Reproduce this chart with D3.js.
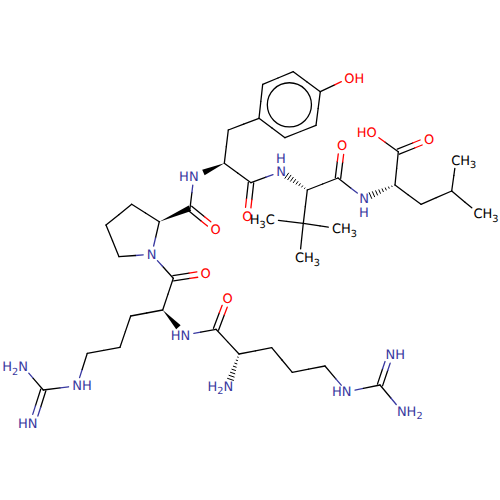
<!DOCTYPE html>
<html lang="en">
<head>
  <meta charset="UTF-8">
  <title>Peptide structure</title>
  <script src="https://d3js.org/d3.v7.min.js"></script>
  <style>
    body { margin: 0; padding: 0; background: #fff; }
    svg { display: block; }
    text { font-family: "DejaVu Sans", sans-serif; text-rendering: geometricPrecision; }
  </style>
</head>
<body>
  <script>
    // atoms
    const atomNames = ["Na","Nb","G1","Nc","A1","A2","A3","CA1","C4","O1","Np","P1","P2","P3","PA","C5","O2","Nt","TA","TB",
      "R1","R2","R3","R4","R5","R6","Oh","C6","O3","Ng","GA","GQ","M1","M2","M3","C7","O4","Nl","LA","C8","Oa","O5","LB","LG",
      "L1","L2","Nr","C9","O6","RA","N2","RB","RC","RD","Ne","G2","Ni","Nn"];
    const atomX = [23.2,32.7,43.3,77,87.3,120,130.7,162.7,173.3,205.7,151.7,119,106,131.7,159.3,190,215.7,193.8,224.3,228.3,
      259,262.7,293.3,320.3,316,285,349,251,247.3,281,307.3,303.3,270,336.7,299.7,338,342,364,395,398.3,372,429,421,451.7,
      456,478.3,185.5,216,227.7,239,228.3,271.7,292.3,325,346.7,380,390.3,401.7];
    const atomY = [366.7,423.3,390,385.7,353.3,347.3,316,310,278.3,273.3,254.3,256.7,225,204.3,221.7,208.3,229.3,176.7,163.3,130,
      118.3,84.3,71.7,91.7,125.3,137.7,78,182.7,216,171.7,190,223.3,219.3,228.3,257.3,178,145.7,198.3,185,151.7,132.7,139.3,204.3,191,
      160,213.3,335,329.3,298.3,354,386,347.7,372.3,366,391.7,385,354.3,411];
    const atomLabels = {Na:"H2N",Nb:"HN",Nc:"NH",O1:"O",Np:"N",O2:"O",Nt:"HN",Oh:"OH",O3:"O",Ng:"N",M1:"H3C",M2:"CH3",M3:"CH3",
      O4:"O",Nl:"N",Oa:"HO",O5:"O",L1:"CH3",L2:"CH3",Nr:"HN",O6:"O",N2:"H2N",Ne:"HN",Ni:"NH",Nn:"NH2"};
    const hydrogensAbove = ["Ng"];
    const hydrogensBelow = ["Nl"];

    const singleBonds = [["Na","G1"],["G1","Nc"],["Nc","A1"],["A1","A2"],["A2","A3"],["A3","CA1"],["CA1","C4"],["C4","Np"],
      ["Np","P1"],["P1","P2"],["P2","P3"],["P3","PA"],["PA","Np"],["C5","Nt"],["TA","TB"],["TB","R1"],
      ["R1","R2"],["R2","R3"],["R3","R4"],["R4","R5"],["R5","R6"],["R6","R1"],["R4","Oh"],
      ["TA","C6"],["C6","Ng"],["GA","GQ"],["GQ","M1"],["GQ","M2"],["GQ","M3"],["GA","C7"],["C7","Nl"],
      ["LA","C8"],["C8","Oa"],["LA","LB"],["LB","LG"],["LG","L1"],["LG","L2"],
      ["Nr","C9"],["C9","RA"],["RA","RB"],["RB","RC"],["RC","RD"],["RD","Ne"],["Ne","G2"],["G2","Nn"]];
    const doubleBonds = [["G1","Nb"],["C4","O1"],["C5","O2"],["C6","O3"],["C7","O4"],["C8","O5"],["C9","O6"],["G2","Ni"]];
    const wedgeBonds = [["PA","C5"],["TA","Nt"],["CA1","Nr"]];
    const hashBonds = [["GA","Ng"],["LA","Nl"],["RA","N2"]];
    const ringAtoms = ["R1","R2","R3","R4","R5","R6"];

    const width = 500, height = 500;
    const x = d3.scaleLinear().domain([0, 500]).range([0, width]);
    const y = d3.scaleLinear().domain([0, 500]).range([0, height]);

    const atoms = new Map(atomNames.map((n, i) => [n, {
      name: n, x: x(atomX[i]), y: y(atomY[i]), label: atomLabels[n] || null
    }]));

    const colorOf = a => {
      if (!a.label) return "#000000";
      if (a.label.includes("N")) return "#3838a0";
      if (a.label.includes("O")) return "#ff0000";
      return "#000000";
    };

    const svg = d3.select("body").append("svg")
      .attr("width", width)
      .attr("height", height);

    // pull a bond end back from the atom label
    function trimmed(a, b, gapA, gapB) {
      const dx = b.x - a.x, dy = b.y - a.y, len = Math.hypot(dx, dy);
      const ta = a.label ? gapA / len : 0, tb = b.label ? gapB / len : 0;
      return {
        x1: a.x + dx * ta, y1: a.y + dy * ta,
        x2: b.x - dx * tb, y2: b.y - dy * tb,
        ux: dx / len, uy: dy / len
      };
    }

    // one bond is two segments, each half in the colour of its atom
    function halves(a, b, off) {
      const t = trimmed(a, b, 8.5, 8.5);
      const mx = (a.x + b.x) / 2, my = (a.y + b.y) / 2;
      const ox = -t.uy * off, oy = t.ux * off;
      return [
        {x1: t.x1 + ox, y1: t.y1 + oy, x2: mx + ox, y2: my + oy, c: colorOf(a)},
        {x1: mx + ox, y1: my + oy, x2: t.x2 + ox, y2: t.y2 + oy, c: colorOf(b)}
      ];
    }

    const segments = [];
    singleBonds.forEach(([p, q]) => segments.push(...halves(atoms.get(p), atoms.get(q), 0)));
    doubleBonds.forEach(([p, q]) => {
      segments.push(...halves(atoms.get(p), atoms.get(q), 2.7));
      segments.push(...halves(atoms.get(p), atoms.get(q), -2.7));
    });

    svg.append("g")
      .attr("stroke-width", 1.3)
      .attr("stroke-linecap", "round")
      .selectAll("line")
      .data(segments)
      .join("line")
      .attr("x1", d => d.x1).attr("y1", d => d.y1)
      .attr("x2", d => d.x2).attr("y2", d => d.y2)
      .attr("stroke", d => d.c);

    // solid wedges
    svg.append("g")
      .selectAll("path")
      .data(wedgeBonds)
      .join("path")
      .attr("fill", "#000")
      .attr("d", ([p, q]) => {
        const t = trimmed(atoms.get(p), atoms.get(q), 0, 10.5);
        const ox = -t.uy * 3, oy = t.ux * 3;
        return d3.line()([[t.x1, t.y1], [t.x2 + ox, t.y2 + oy], [t.x2 - ox, t.y2 - oy]]) + "Z";
      });

    // hashed wedges
    const hashes = [];
    hashBonds.forEach(([p, q]) => {
      const t = trimmed(atoms.get(p), atoms.get(q), 0, 7);
      d3.range(1, 9).forEach(i => {
        const f = i / 8, w = 3.2 * f + 0.3;
        const cx = t.x1 + (t.x2 - t.x1) * f, cy = t.y1 + (t.y2 - t.y1) * f;
        hashes.push({x1: cx - t.uy * w, y1: cy + t.ux * w, x2: cx + t.uy * w, y2: cy - t.ux * w});
      });
    });
    svg.append("g")
      .attr("stroke", "#000")
      .attr("stroke-width", 1)
      .selectAll("line")
      .data(hashes)
      .join("line")
      .attr("x1", d => d.x1).attr("y1", d => d.y1)
      .attr("x2", d => d.x2).attr("y2", d => d.y2);

    // aromatic circle inside the ring
    const ring = ringAtoms.map(n => atoms.get(n));
    const ringX = d3.mean(ring, d => d.x), ringY = d3.mean(ring, d => d.y);
    svg.append("circle")
      .attr("cx", ringX)
      .attr("cy", ringY)
      .attr("r", d3.mean(ring, d => Math.hypot(d.x - ringX, d.y - ringY)) * 0.66)
      .attr("fill", "none")
      .attr("stroke", "#000")
      .attr("stroke-width", 1.3);

    // atom labels, the heavy atom glyph sits on the atom position
    const fontSize = 13;
    const labelled = Array.from(atoms.values()).filter(a => a.label);
    const labels = svg.append("g")
      .attr("font-size", fontSize)
      .selectAll("text")
      .data(labelled)
      .join("text")
      .attr("fill", colorOf)
      .attr("y", d => d.y + fontSize * 0.365)
      .attr("x", d => d.label.length === 1 ? d.x
        : d.label[0] === "H" ? d.x + fontSize * 0.37 : d.x - fontSize * 0.37)
      .attr("text-anchor", d => d.label.length === 1 ? "middle" : d.label[0] === "H" ? "end" : "start");

    labels.each(function(d) {
      const t = d3.select(this);
      let sub = false;
      d.label.split(/(\d)/).filter(s => s).forEach(part => {
        const isNum = /\d/.test(part);
        t.append("tspan")
          .attr("font-size", isNum ? fontSize * 0.75 : fontSize)
          .attr("dy", isNum ? 3.5 : sub ? -3.5 : 0)
          .text(part);
        sub = isNum;
      });
    });

    // explicit H drawn on its own line over or under the N
    svg.append("g")
      .attr("font-size", fontSize)
      .attr("fill", "#3838a0")
      .attr("text-anchor", "middle")
      .selectAll("text")
      .data([...hydrogensAbove.map(n => ({a: atoms.get(n), s: -1})), ...hydrogensBelow.map(n => ({a: atoms.get(n), s: 1}))])
      .join("text")
      .attr("x", d => d.a.x)
      .attr("y", d => d.a.y + fontSize * 0.365 + d.s * 13.5)
      .text("H");
  </script>
</body>
</html>
